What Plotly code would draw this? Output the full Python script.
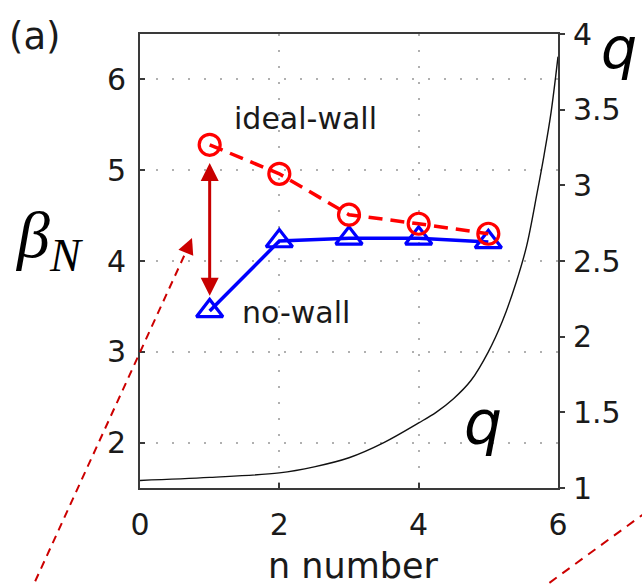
import plotly.graph_objects as go

# Beta_N limits versus toroidal mode number
n_modes = [1, 2, 3, 4, 5]
beta_ideal_wall = [5.28, 4.96, 4.51, 4.41, 4.30]
beta_no_wall = [3.45, 4.22, 4.25, 4.25, 4.21]

# Safety-factor profile drawn against the right axis
n_profile = [0, 1, 2, 2.5, 3, 3.5, 4, 4.25, 4.5, 4.75, 5, 5.2, 5.4, 5.55, 5.7, 5.8, 5.9, 6]
q_profile = [1.05, 1.07, 1.10, 1.14, 1.20, 1.30, 1.43, 1.50, 1.59, 1.71, 1.90,
             2.10, 2.36, 2.60, 2.95, 3.20, 3.48, 3.85]

# Gap between the two limits at n = 1
gap_arrow_top = 5.08
gap_arrow_bottom = 3.60

x_ticks = [0, 2, 4, 6]
beta_ticks = [2, 3, 4, 5, 6]
q_ticks = [1, 1.5, 2, 2.5, 3, 3.5, 4]
q_tick_text = ["1", "1.5", "2", "2.5", "3", "3.5", "4"]

SANS = "DejaVu Sans"
TXT = "#1a1a1a"
AXIS = "#3a3a3a"
GRID = "#b0b0b0"

fig = go.Figure()

fig.add_trace(go.Scatter(
    x=n_profile, y=q_profile, yaxis="y2", mode="lines",
    line=dict(color="#111111", width=1.4, shape="spline", smoothing=1.0),
    showlegend=False, hoverinfo="skip",
))
fig.add_trace(go.Scatter(
    x=n_modes, y=beta_no_wall, mode="lines+markers",
    line=dict(color="#0000ff", width=3.5),
    marker=dict(symbol="triangle-up-open", size=23, color="#0000ff",
                line=dict(color="#0000ff", width=3.2)),
    showlegend=False,
))
fig.add_trace(go.Scatter(
    x=n_modes, y=beta_ideal_wall, mode="lines+markers",
    line=dict(color="#ff0000", width=3.5, dash="14px,8px"),
    marker=dict(symbol="circle-open", size=21, color="#ff0000",
                line=dict(color="#ff0000", width=3.2)),
    showlegend=False,
))

annotations = [
    # double-headed arrow marking the wall stabilisation gain
    dict(x=n_modes[0], y=gap_arrow_top, ax=n_modes[0], ay=gap_arrow_bottom,
         xref="x", yref="y", axref="x", ayref="y", text="",
         showarrow=True, arrowside="end+start", arrowhead=2, arrowsize=1.2,
         arrowwidth=3, arrowcolor="#c80000"),
    dict(x=1.32, y=5.57, xref="x", yref="y", text="ideal-wall",
         xanchor="left", yanchor="middle", showarrow=False,
         font=dict(family=SANS, size=30, color=TXT)),
    dict(x=1.435, y=3.43, xref="x", yref="y", text="no-wall",
         xanchor="left", yanchor="middle", showarrow=False,
         font=dict(family=SANS, size=30, color=TXT)),
    dict(x=4.92, y=1.43, xref="x", yref="y2", text="q",
         xanchor="center", yanchor="middle", showarrow=False,
         font=dict(family=SANS, size=60, style="italic", color="#000")),
    dict(x=1.147, y=0.969, xref="paper", yref="paper", text="q",
         xanchor="center", yanchor="middle", showarrow=False,
         font=dict(family=SANS, size=57, style="italic", color="#000")),
    dict(x=-0.218, y=0.548, xref="paper", yref="paper", text="β<sub>N</sub>",
         xanchor="center", yanchor="middle", showarrow=False,
         font=dict(family="Liberation Serif", size=66, style="italic", color="#000")),
    dict(x=-0.251, y=0.995, xref="paper", yref="paper", text="(a)",
         xanchor="center", yanchor="middle", showarrow=False,
         font=dict(family=SANS, size=37, color=TXT)),
    dict(x=0.51, y=-0.172, xref="paper", yref="paper", text="n number",
         xanchor="center", yanchor="middle", showarrow=False,
         font=dict(family=SANS, size=35, color=TXT)),
    # arrowhead of the zoom guide line
    dict(x=0.1244, y=0.5507, xref="paper", yref="paper", text="",
         ax=-5, ay=12, showarrow=True, arrowhead=2, arrowsize=1.6,
         arrowwidth=2, arrowcolor="#cc0000"),
]

shapes = [
    dict(type="line", xref="paper", yref="paper",
         x0=0.1196, y0=0.5396, x1=-0.2713, y1=-0.2467,
         line=dict(color="#cc0000", width=2, dash="8px,6px"), layer="above"),
    dict(type="line", xref="paper", yref="paper",
         x0=1.244, y0=-0.0308, x1=0.9234, y1=-0.2467,
         line=dict(color="#cc0000", width=2, dash="9px,7px"), layer="above"),
]

fig.update_layout(
    width=642, height=586,
    margin=dict(l=140, r=84, t=34, b=98),
    paper_bgcolor="white", plot_bgcolor="white",
    showlegend=False,
    annotations=annotations,
    shapes=shapes,
    xaxis=dict(
        range=[0, 6], tickvals=x_ticks, ticks="inside", ticklen=5,
        tickcolor=AXIS, tickwidth=2,
        showline=True, linecolor=AXIS, linewidth=2, mirror=True,
        showgrid=True, gridcolor=GRID, griddash="2px,14px", gridwidth=1.8,
        zeroline=False, ticklabelstandoff=9,
        tickfont=dict(family=SANS, size=30, color=TXT),
    ),
    yaxis=dict(
        range=[1.5, 6.5], tickvals=beta_ticks, ticks="inside", ticklen=5,
        tickcolor=AXIS, tickwidth=2,
        showline=True, linecolor=AXIS, linewidth=2, mirror=True,
        showgrid=True, gridcolor=GRID, griddash="2px,14px", gridwidth=1.8,
        zeroline=False, ticklabelstandoff=6,
        tickfont=dict(family=SANS, size=30, color=TXT),
    ),
    yaxis2=dict(
        range=[1, 4], tickvals=q_ticks, ticktext=q_tick_text,
        overlaying="y", side="right", anchor="x",
        ticks="outside", ticklen=5, tickcolor=AXIS, tickwidth=2,
        showline=True, linecolor=AXIS, linewidth=2,
        showgrid=False, zeroline=False, ticklabelstandoff=2,
        tickfont=dict(family=SANS, size=30, color=TXT),
    ),
)

fig.write_html("out.html")
